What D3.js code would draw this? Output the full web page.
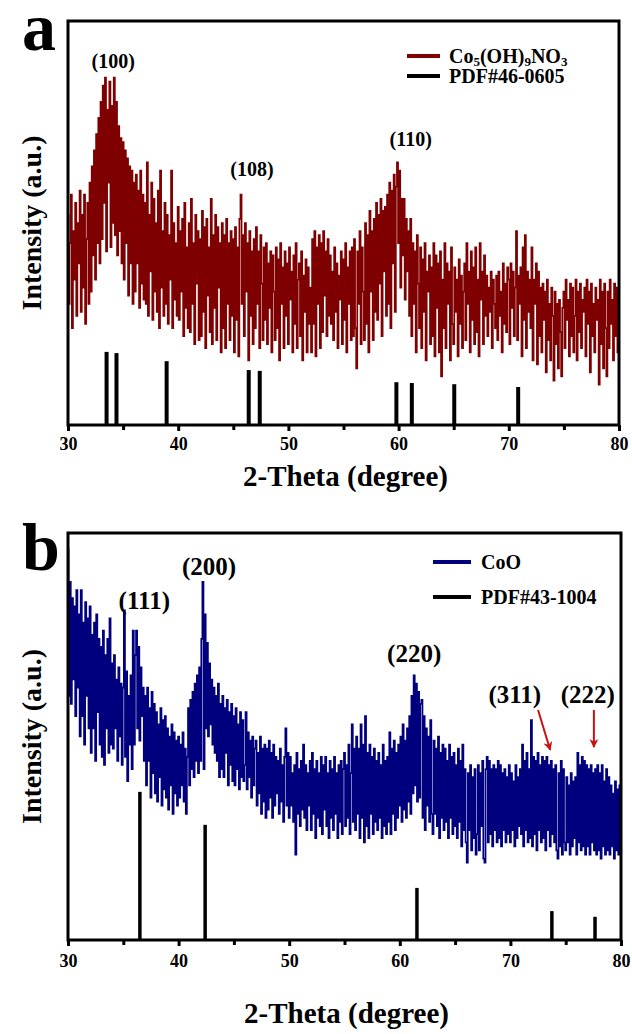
<!DOCTYPE html>
<html>
<head>
<meta charset="utf-8">
<script src="https://cdn.jsdelivr.net/npm/d3@7"></script>
<style>
  html, body { margin: 0; padding: 0; background: #fff; }
  svg { display: block; }
  text { font-family: "Liberation Serif", "Times New Roman", serif; font-weight: bold; fill: #000; }
</style>
</head>
<body>
<svg id="chart" width="632" height="1034"></svg>
<script>
// 2-theta grid: 30..80 deg, 0.1 deg step
var thetaStart = 30;
var thetaStep = 0.1;
var xTicks = [30, 40, 50, 60, 70, 80];
var xMinorTicks = [35, 45, 55, 65, 75];

// panel a: Co5(OH)9NO3 pattern (a.u., 0 = axis, 100 = frame top), one row per degree
var intensityA = [
  52, 30, 45, 57, 24, 48, 36, 55, 27, 50,
  40, 58, 28, 52, 34, 57, 25, 46, 55, 30,
  60, 33, 64, 42, 68, 36, 72, 45, 76, 40,
  80, 46, 84, 55, 86, 43, 78, 60, 85, 44,
  79, 50, 86, 47, 80, 42, 74, 48, 71, 40,
  70, 36, 68, 45, 66, 32, 64, 40, 63, 30,
  60, 33, 62, 40, 58, 29, 63, 35, 57, 31,
  55, 30, 65, 27, 52, 38, 60, 26, 56, 33,
  50, 28, 58, 24, 63, 34, 48, 27, 55, 30,
  52, 25, 47, 36, 63, 24, 50, 31, 45, 27,
  54, 26, 48, 33, 51, 22, 55, 29, 44, 24,
  50, 23, 56, 30, 45, 20, 52, 35, 48, 21,
  46, 22, 53, 28, 49, 19, 51, 32, 44, 23,
  56, 20, 47, 29, 52, 21, 49, 34, 45, 18,
  50, 24, 47, 19, 51, 30, 45, 21, 48, 27,
  46, 18, 49, 26, 44, 17, 51, 57, 30, 47,
  22, 50, 33, 45, 16, 48, 27, 43, 20, 46,
  24, 49, 30, 43, 19, 47, 35, 21, 44, 26,
  45, 20, 40, 29, 43, 18, 42, 33, 21, 44,
  24, 41, 16, 45, 30, 39, 19, 43, 27, 40,
  20, 44, 31, 38, 18, 42, 25, 45, 19, 36,
  40, 22, 43, 16, 37, 28, 41, 18, 39, 25,
  34, 18, 46, 25, 48, 17, 44, 30, 47, 19,
  45, 23, 48, 32, 43, 22, 46, 27, 42, 25,
  38, 21, 44, 28, 40, 19, 37, 31, 43, 20,
  41, 26, 45, 18, 39, 30, 43, 21, 44, 22,
  46, 24, 14, 43, 30, 48, 20, 44, 33, 21,
  50, 25, 47, 18, 53, 33, 48, 21, 51, 28,
  55, 26, 52, 35, 56, 22, 53, 38, 54, 27,
  57, 30, 60, 24, 58, 40, 62, 28, 59, 65,
  45, 63, 34, 56, 42, 56, 31, 51, 38, 48,
  27, 51, 22, 45, 30, 43, 18, 47, 35, 24,
  44, 19, 41, 28, 45, 16, 38, 33, 42, 20,
  39, 22, 45, 17, 42, 29, 40, 18, 43, 12,
  36, 24, 45, 19, 40, 30, 38, 16, 44, 25,
  20, 39, 28, 36, 17, 41, 25, 37, 19, 33,
  40, 21, 45, 30, 38, 18, 43, 26, 39, 20,
  44, 23, 36, 17, 45, 31, 38, 20, 42, 27,
  37, 22, 34, 28, 38, 19, 36, 30, 24, 37,
  21, 38, 27, 33, 18, 40, 25, 35, 23, 39,
  36, 20, 40, 29, 38, 22, 34, 48, 21, 37,
  30, 39, 17, 44, 26, 47, 19, 38, 28, 36,
  24, 44, 16, 36, 30, 40, 15, 38, 22, 34,
  18, 35, 26, 33, 13, 36, 21, 30, 16, 34,
  27, 11, 33, 20, 30, 14, 31, 23, 12, 29,
  33, 19, 36, 26, 31, 17, 35, 22, 34, 18,
  27, 36, 16, 33, 23, 35, 19, 31, 28, 34,
  17, 36, 25, 33, 13, 35, 22, 30, 18, 34,
  26, 31, 10, 36, 20, 33, 14, 35, 24, 12,
  33, 19, 36, 25, 31, 16, 35, 22, 34, 18,
  29
];

// panel b: CoO pattern
var intensityB = [
  96, 60, 88, 58, 84, 64, 82, 55, 86, 62,
  80, 50, 86, 55, 78, 48, 83, 60, 79, 52,
  82, 46, 75, 52, 78, 44, 80, 56, 74, 48,
  72, 45, 76, 43, 70, 52, 74, 46, 79, 48,
  68, 47, 70, 52, 64, 44, 67, 50, 63, 43,
  62, 81, 45, 66, 39, 60, 48, 65, 42, 76,
  48, 70, 76, 52, 72, 49, 67, 55, 62, 44,
  60, 38, 62, 44, 57, 35, 61, 41, 58, 36,
  56, 34, 53, 40, 57, 33, 54, 37, 55, 35,
  52, 32, 50, 38, 53, 31, 51, 36, 49, 33,
  50, 35, 48, 38, 51, 34, 47, 31, 45, 57,
  38, 59, 42, 61, 40, 63, 44, 65, 41, 67,
  44, 74, 88, 42, 80, 52, 73, 50, 68, 53,
  64, 48, 62, 46, 60, 44, 63, 40, 58, 42,
  60, 40, 57, 46, 59, 38, 56, 43, 58, 39,
  55, 38, 57, 42, 53, 37, 56, 40, 54, 39,
  43, 56, 37, 51, 40, 49, 35, 50, 38, 47,
  49, 33, 46, 36, 50, 31, 47, 34, 48, 30,
  47, 32, 49, 35, 46, 30, 48, 33, 45, 36,
  44, 31, 47, 34, 43, 29, 45, 52, 33, 46,
  30, 45, 33, 41, 29, 43, 21, 46, 31, 42,
  28, 44, 32, 48, 30, 43, 27, 41, 33, 44,
  27, 46, 31, 42, 25, 44, 30, 41, 28, 45,
  26, 43, 32, 45, 28, 41, 25, 44, 30, 42,
  27, 45, 31, 41, 25, 43, 29, 44, 26, 42,
  46, 28, 43, 30, 48, 26, 41, 53, 29, 47,
  27, 50, 31, 47, 25, 53, 30, 48, 24, 55,
  28, 46, 25, 48, 31, 45, 26, 47, 29, 44,
  27, 46, 30, 43, 25, 48, 28, 44, 26, 45,
  29, 51, 26, 47, 31, 49, 27, 46, 30, 48,
  33, 50, 29, 53, 32, 49, 30, 52, 34, 55,
  31, 60, 36, 65, 38, 63, 34, 61, 35, 58,
  59, 30, 55, 27, 52, 33, 50, 29, 54, 31,
  26, 49, 31, 47, 28, 50, 25, 46, 30, 48,
  27, 47, 29, 44, 25, 48, 30, 45, 26, 46,
  28, 43, 25, 47, 29, 44, 23, 48, 27, 42,
  24, 19, 41, 27, 43, 22, 40, 25, 42, 21,
  26, 43, 22, 41, 28, 44, 20, 19, 42, 45,
  24, 44, 26, 42, 23, 43, 27, 42, 24, 44,
  25, 43, 23, 41, 27, 42, 24, 40, 26, 43,
  24, 41, 27, 39, 23, 43, 25, 40, 28, 42,
  26, 48, 23, 44, 27, 46, 24, 42, 25, 54,
  23, 45, 26, 44, 22, 46, 27, 43, 24, 45,
  25, 44, 22, 45, 27, 43, 23, 44, 26, 42,
  24, 43, 22, 20, 41, 23, 44, 21, 42, 24,
  22, 40, 24, 38, 21, 41, 23, 39, 25, 40,
  21, 46, 24, 43, 22, 45, 23, 44, 21, 43,
  23, 42, 21, 43, 24, 41, 22, 42, 21, 43,
  22, 41, 20, 43, 23, 39, 21, 42, 22, 40,
  21, 38, 23, 36, 20, 39, 22, 37, 21, 38,
  38
];

// standard cards
var refPosA = [33.5, 34.4, 38.95, 46.4, 47.4, 59.8, 61.2, 65.05, 70.85];
var refIntA = [18.1, 17.8, 15.8, 13.6, 13.4, 10.6, 10.4, 10.1, 9.4];
var refPosB = [36.5, 42.4, 61.55, 73.75, 77.65];
var refIntB = [36.4, 28.3, 12.8, 7.1, 5.7];

// peak labels: text, 2-theta, height
var peakTextA = ["(100)", "(108)", "(110)"];
var peakPosA = [34.1, 46.7, 61.1];
var peakHtA = [88.4, 61.6, 69];
var peakTextB = ["(111)", "(200)", "(220)", "(311)", "(222)"];
var peakPosB = [36.9, 42.75, 61.3, 70.4, 77.0];
var peakHtB = [81.3, 89.7, 68.3, 58.2, 58.2];

// arrows in panel b: [x0, y0, x1, y1] in data units
var arrowsB = [[72.5, 56.5, 73.6, 46.7], [77.55, 56.5, 77.55, 47.4]];

var svg = d3.select("#chart");

svg.append("defs").append("marker")
  .attr("id", "arrowhead")
  .attr("viewBox", "0 0 10 10")
  .attr("refX", 9).attr("refY", 5)
  .attr("markerWidth", 4.5).attr("markerHeight", 4.5)
  .attr("orient", "auto")
  .append("path")
  .attr("d", "M0,0 L10,5 L0,10 L3,5 Z")
  .attr("fill", "#cc1111");

function drawPanel(cfg) {
  var x = d3.scaleLinear().domain([30, 80]).range([cfg.left, cfg.right]);
  var y = d3.scaleLinear().domain([0, 100]).range([cfg.bottom, cfg.top]);
  var g = svg.append("g");

  g.append("clipPath").attr("id", cfg.id + "-clip")
    .append("rect")
    .attr("x", cfg.left).attr("y", cfg.top)
    .attr("width", cfg.right - cfg.left).attr("height", cfg.bottom - cfg.top);

  // pattern, drawn as steps like the dense detector trace
  var line = d3.line()
    .curve(d3.curveStep)
    .x(function (d, i) { return x(thetaStart + i * thetaStep); })
    .y(function (d) { return y(d); });
  g.append("path")
    .datum(cfg.data)
    .attr("clip-path", "url(#" + cfg.id + "-clip)")
    .attr("fill", "none")
    .attr("stroke", cfg.color)
    .attr("stroke-width", 1.7)
    .attr("d", line);

  // reference card sticks
  g.selectAll(".ref").data(cfg.refPos).enter().append("line")
    .attr("x1", function (d) { return x(d); })
    .attr("x2", function (d) { return x(d); })
    .attr("y1", y(0))
    .attr("y2", function (d, i) { return y(cfg.refInt[i]); })
    .attr("stroke", "#000")
    .attr("stroke-width", cfg.refWidth);

  // frame
  g.append("rect")
    .attr("x", cfg.left).attr("y", cfg.top)
    .attr("width", cfg.right - cfg.left).attr("height", cfg.bottom - cfg.top)
    .attr("fill", "none").attr("stroke", "#000").attr("stroke-width", 3);

  // x axis
  var axis = g.append("g")
    .attr("transform", "translate(0," + cfg.bottom + ")")
    .call(d3.axisBottom(x).tickValues(xTicks).tickSize(6).tickPadding(cfg.tickPad).tickFormat(d3.format("d")));
  axis.select(".domain").remove();
  axis.selectAll(".tick line").attr("stroke-width", 3);
  axis.selectAll(".tick text")
    .attr("font-family", "Liberation Serif, serif")
    .attr("font-weight", "bold")
    .attr("font-size", 18);
  g.append("g")
    .attr("transform", "translate(0," + cfg.bottom + ")")
    .call(d3.axisBottom(x).tickValues(xMinorTicks).tickSize(5).tickFormat(""))
    .call(function (s) { s.select(".domain").remove(); s.selectAll("line").attr("stroke-width", 3); });

  // titles
  g.append("text")
    .attr("x", (cfg.left + cfg.right) / 2 + 2)
    .attr("y", cfg.xTitleY)
    .attr("text-anchor", "middle")
    .attr("font-size", 29)
    .text("2-Theta (degree)");
  g.append("text")
    .attr("transform", "translate(41," + ((cfg.top + cfg.bottom) / 2) + ") rotate(-90)")
    .attr("text-anchor", "middle")
    .attr("font-size", 28)
    .text("Intensity (a.u.)");

  // panel letter
  g.append("text")
    .attr("x", 22).attr("y", cfg.letterY)
    .attr("font-size", 68)
    .text(cfg.letter);

  // peak labels
  g.selectAll(".peak").data(cfg.peakText).enter().append("text")
    .attr("x", function (d, i) { return x(cfg.peakPos[i]); })
    .attr("y", function (d, i) { return y(cfg.peakHt[i]); })
    .attr("text-anchor", "middle")
    .attr("font-size", cfg.peakFont)
    .text(function (d) { return d; });

  // legend
  var leg = g.append("g");
  cfg.legend.forEach(function (item, i) {
    var ly = cfg.legY + i * cfg.legGap;
    leg.append("line")
      .attr("x1", cfg.legX).attr("x2", cfg.legX + cfg.legLen)
      .attr("y1", ly).attr("y2", ly)
      .attr("stroke", item.color).attr("stroke-width", 4);
    var t = leg.append("text")
      .attr("x", cfg.legX + cfg.legLen + cfg.legTextGap)
      .attr("y", ly + 7)
      .attr("font-size", cfg.legFont);
    item.parts.forEach(function (p) {
      var ts = t.append("tspan").text(p[0]);
      if (p[1]) ts.attr("font-size", 13).attr("dy", 3);
      else if (p[2]) ts.attr("dy", -3);
    });
  });

  return { x: x, y: y, g: g };
}

drawPanel({
  id: "a", letter: "a", letterY: 50,
  left: 68, right: 619, top: 21, bottom: 425,
  data: intensityA, color: "#7f0000",
  refPos: refPosA, refInt: refIntA, refWidth: 4,
  tickPad: 6, xTitleY: 486,
  peakText: peakTextA, peakPos: peakPosA, peakHt: peakHtA, peakFont: 20,
  legX: 407, legLen: 33, legTextGap: 9, legY: 56, legGap: 20, legFont: 20,
  legend: [
    { color: "#7f0000", parts: [["Co"], ["5", true], ["(OH)", false, true], ["9", true], ["NO", false, true], ["3", true]] },
    { color: "#000", parts: [["PDF#46-0605"]] }
  ]
});

var pb = drawPanel({
  id: "b", letter: "b", letterY: 570,
  left: 68, right: 621, top: 533, bottom: 940,
  data: intensityB, color: "#00007f",
  refPos: refPosB, refInt: refIntB, refWidth: 3.5,
  tickPad: 8, xTitleY: 1023,
  peakText: peakTextB, peakPos: peakPosB, peakHt: peakHtB, peakFont: 25,
  legX: 433, legLen: 38, legTextGap: 10, legY: 562, legGap: 35, legFont: 20,
  legend: [
    { color: "#00007f", parts: [["CoO"]] },
    { color: "#000", parts: [["PDF#43-1004"]] }
  ]
});

pb.g.selectAll(".arrow").data(arrowsB).enter().append("line")
  .attr("x1", function (d) { return pb.x(d[0]); })
  .attr("y1", function (d) { return pb.y(d[1]); })
  .attr("x2", function (d) { return pb.x(d[2]); })
  .attr("y2", function (d) { return pb.y(d[3]); })
  .attr("stroke", "#cc1111")
  .attr("stroke-width", 2)
  .attr("marker-end", "url(#arrowhead)");
</script>
</body>
</html>
